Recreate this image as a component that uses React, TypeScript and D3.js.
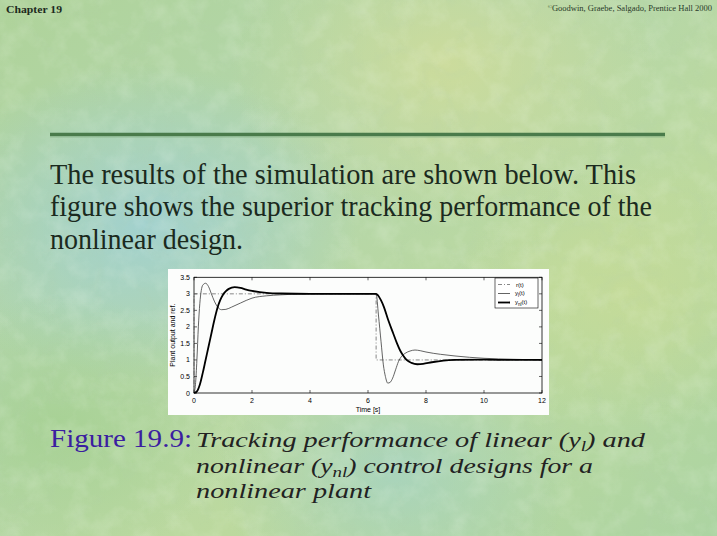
import React from "react";
import * as d3 from "d3";

// ---------- data ----------
const xTicks = [0, 2, 4, 6, 8, 10, 12];
const yTicks = [0, 0.5, 1, 1.5, 2, 2.5, 3, 3.5];

const tRef = [0, 0, 6.28, 6.28, 12];
const rRef = [0, 3, 3, 1, 1];

const tLin = [0, 0.05, 0.1, 0.15, 0.2, 0.25, 0.3, 0.4, 0.5, 0.6, 0.7, 0.8, 0.95, 1.1, 1.3, 1.6, 2.0, 2.5, 3.0, 4.0, 5.0, 6.28,
  6.36, 6.45, 6.53, 6.6, 6.68, 6.76, 6.85, 6.95, 7.05, 7.15, 7.28, 7.45, 7.62, 7.8, 8.0, 8.5, 9.0, 9.5, 10, 11, 12];
const yLin = [0, 0.25, 1.0, 2.0, 2.7, 3.1, 3.26, 3.32, 3.22, 3.0, 2.78, 2.62, 2.52, 2.53, 2.6, 2.72, 2.87, 2.94, 2.97, 3.0, 3.0, 3.0,
  2.36, 1.55, 0.85, 0.5, 0.3, 0.32, 0.45, 0.7, 0.95, 1.1, 1.2, 1.27, 1.3, 1.28, 1.24, 1.17, 1.12, 1.08, 1.05, 1.02, 1.0];

const tNl = [0, 0.1, 0.2, 0.3, 0.4, 0.5, 0.6, 0.7, 0.8, 0.9, 1.0, 1.1, 1.2, 1.4, 1.6, 1.8, 2.0, 2.5, 3.0, 4.0, 5.0, 6.28,
  6.35, 6.45, 6.55, 6.7, 6.85, 7.0, 7.1, 7.2, 7.33, 7.5, 7.7, 7.9, 8.2, 8.6, 9.0, 10, 11, 12];
const yNl = [0, 0.05, 0.25, 0.6, 1.0, 1.4, 1.8, 2.2, 2.55, 2.8, 2.97, 3.08, 3.15, 3.2, 3.18, 3.13, 3.09, 3.03, 3.01, 3.0, 3.0, 3.0,
  2.95, 2.8, 2.6, 2.2, 1.85, 1.5, 1.3, 1.15, 1.0, 0.91, 0.87, 0.88, 0.93, 0.98, 1.0, 1.01, 1.0, 1.0];

const bodyLines = [
  "The results of the simulation are shown below.  This",
  "figure shows the superior tracking performance of the",
  "nonlinear design.",
];

const SERIF = "'Liberation Serif', 'Times New Roman', Times, serif";
const SANS = "'Liberation Sans', Arial, Helvetica, sans-serif";

export default function App() {
  const W = 717, H = 536;
  const x = d3.scaleLinear().domain([0, 12]).range([194, 542]);
  const y = d3.scaleLinear().domain([0, 3.5]).range([393, 277.3]);

  const lineLinear = d3.line<[number, number]>().x((d) => x(d[0])).y((d) => y(d[1]));
  const lineSmooth = d3.line<[number, number]>().x((d) => x(d[0])).y((d) => y(d[1])).curve(d3.curveMonotoneX);

  const refPts = tRef.map((t, i) => [t, rRef[i]] as [number, number]);
  const linPts = tLin.map((t, i) => [t, yLin[i]] as [number, number]);
  const nlPts = tNl.map((t, i) => [t, yNl[i]] as [number, number]);

  const [x0, x1] = x.range();
  const [y0, y1] = y.range();

  return (
    <svg width={W} height={H} style={{ position: "absolute", left: 0, top: 0, display: "block" }}>
      <defs>
        <linearGradient id="bg" x1="0" y1="0" x2="1" y2="1">
          <stop offset="0" stopColor="#afd39a" />
          <stop offset="0.35" stopColor="#b3d6ac" />
          <stop offset="0.65" stopColor="#bcd99e" />
          <stop offset="1" stopColor="#acd4a2" />
        </linearGradient>
        <radialGradient id="blue1" cx="0.2" cy="0.42" r="0.3">
          <stop offset="0" stopColor="#9fd0d4" stopOpacity="0.85" />
          <stop offset="1" stopColor="#9fd0d4" stopOpacity="0" />
        </radialGradient>
        <radialGradient id="blue2" cx="0.55" cy="0.88" r="0.25">
          <stop offset="0" stopColor="#a2d2c8" stopOpacity="0.7" />
          <stop offset="1" stopColor="#a2d2c8" stopOpacity="0" />
        </radialGradient>
        <radialGradient id="yel1" cx="0.62" cy="0.12" r="0.3">
          <stop offset="0" stopColor="#d2dd98" stopOpacity="0.8" />
          <stop offset="1" stopColor="#d2dd98" stopOpacity="0" />
        </radialGradient>
        <radialGradient id="yel2" cx="0.88" cy="0.55" r="0.25">
          <stop offset="0" stopColor="#c9dc96" stopOpacity="0.7" />
          <stop offset="1" stopColor="#c9dc96" stopOpacity="0" />
        </radialGradient>
        <radialGradient id="grn1" cx="0.08" cy="0.8" r="0.25">
          <stop offset="0" stopColor="#a4d090" stopOpacity="0.8" />
          <stop offset="1" stopColor="#a4d090" stopOpacity="0" />
        </radialGradient>
        <filter id="tex" x="0" y="0" width="100%" height="100%">
          <feTurbulence type="fractalNoise" baseFrequency="0.045" numOctaves="4" seed="7" result="n" />
          <feColorMatrix in="n" type="matrix"
            values="0 0 0 0 0.95  0 0 0 0 1  0 0 0 0 0.92  1.4 0 0 0 -0.6" />
        </filter>
        <filter id="tex2" x="0" y="0" width="100%" height="100%">
          <feTurbulence type="turbulence" baseFrequency="0.02" numOctaves="3" seed="3" result="n" />
          <feColorMatrix in="n" type="matrix"
            values="0 0 0 0 0.45  0 0 0 0 0.62  0 0 0 0 0.42  -1.5 0 0 0 0.35" />
        </filter>
      </defs>

      {/* background */}
      <rect x={0} y={0} width={W} height={H} fill="url(#bg)" />
      <rect x={0} y={0} width={W} height={H} fill="url(#blue1)" />
      <rect x={0} y={0} width={W} height={H} fill="url(#blue2)" />
      <rect x={0} y={0} width={W} height={H} fill="url(#yel1)" />
      <rect x={0} y={0} width={W} height={H} fill="url(#yel2)" />
      <rect x={0} y={0} width={W} height={H} fill="url(#grn1)" />
      <rect x={0} y={0} width={W} height={H} filter="url(#tex2)" opacity={0.35} />
      <rect x={0} y={0} width={W} height={H} filter="url(#tex)" opacity={0.25} />

      {/* header */}
      <text x={6} y={13} fontFamily={SERIF} fontWeight="bold" fontSize={11} fill="#1d2a1d" textLength={56} lengthAdjust="spacingAndGlyphs">
        Chapter 19
      </text>
      <text x={712} y={11} textAnchor="end" fontFamily={SERIF} fontSize={8.5} fill="#2a3a2a">
        <tspan fontSize={5.5} dy={-2}>©</tspan>
        <tspan dy={2}>Goodwin, Graebe, Salgado, Prentice Hall 2000</tspan>
      </text>

      {/* rule */}
      <line x1={50} x2={665} y1={134.5} y2={134.5} stroke="#4a7b4b" strokeWidth={3.5} />
      <line x1={50} x2={665} y1={137} y2={137} stroke="#86b286" strokeWidth={1} opacity={0.7} />

      {/* body text */}
      {bodyLines.map((s, i) => (
        <text key={i} x={50} y={183.5 + i * 32.5} fontFamily={SERIF} fontSize={29} fill="#1b2a1e"
          textLength={[586, 602, 193][i]} lengthAdjust="spacingAndGlyphs">
          {s}
        </text>
      ))}

      {/* chart panel */}
      <rect x={168} y={269} width={381} height={146} fill="#fcfdfc" />

      {/* axes box */}
      <rect x={x0} y={y1} width={x1 - x0} height={y0 - y1} fill="none" stroke="#000" strokeWidth={0.8} />

      {/* ticks */}
      {xTicks.map((t) => (
        <g key={"xt" + t}>
          <line x1={x(t)} x2={x(t)} y1={y0} y2={y0 - 3} stroke="#000" strokeWidth={0.6} />
          <line x1={x(t)} x2={x(t)} y1={y1} y2={y1 + 3} stroke="#000" strokeWidth={0.6} />
          <text x={x(t)} y={y0 + 10} textAnchor="middle" fontFamily={SANS} fontSize={7} fill="#000">{t}</text>
        </g>
      ))}
      {yTicks.map((v) => (
        <g key={"yt" + v}>
          <line x1={x0} x2={x0 + 3} y1={y(v)} y2={y(v)} stroke="#000" strokeWidth={0.6} />
          <line x1={x1} x2={x1 - 3} y1={y(v)} y2={y(v)} stroke="#000" strokeWidth={0.6} />
          <text x={x0 - 4} y={y(v) + 2.5} textAnchor="end" fontFamily={SANS} fontSize={7} fill="#000">{v}</text>
        </g>
      ))}

      {/* axis labels */}
      <text x={(x0 + x1) / 2} y={412} textAnchor="middle" fontFamily={SANS} fontSize={7} fill="#000">Time [s]</text>
      <text transform={`translate(175, ${(y0 + y1) / 2}) rotate(-90)`} textAnchor="middle" fontFamily={SANS} fontSize={7} fill="#000">
        Plant output and ref.
      </text>

      {/* series */}
      <path d={lineLinear(refPts) || ""} fill="none" stroke="#6a6a6a" strokeWidth={0.8} strokeDasharray="4,2,1,2" />
      <path d={lineSmooth(linPts) || ""} fill="none" stroke="#3c3c3c" strokeWidth={0.8} />
      <path d={lineSmooth(nlPts) || ""} fill="none" stroke="#000" strokeWidth={1.8} />

      {/* legend */}
      <g>
        <rect x={495} y={278} width={43} height={30} fill="#fff" stroke="#000" strokeWidth={0.6} />
        <line x1={498} x2={510} y1={284.5} y2={284.5} stroke="#6a6a6a" strokeWidth={0.8} strokeDasharray="4,2,1,2" />
        <text x={516} y={287} fontFamily={SANS} fontSize={6} fill="#000">r(t)</text>
        <line x1={498} x2={510} y1={293.5} y2={293.5} stroke="#3c3c3c" strokeWidth={0.8} />
        <text x={515} y={295} fontFamily={SANS} fontSize={6} fill="#000">
          y<tspan fontSize={4.5} dy={1.5}>l</tspan><tspan dy={-1.5}>(t)</tspan>
        </text>
        <line x1={498} x2={510} y1={302.5} y2={302.5} stroke="#000" strokeWidth={1.8} />
        <text x={515} y={304} fontFamily={SANS} fontSize={6} fill="#000">
          y<tspan fontSize={4.5} dy={1.5}>nl</tspan><tspan dy={-1.5}>(t)</tspan>
        </text>
      </g>

      {/* caption */}
      <text x={50} y={447} fontFamily={SERIF} fontSize={26} fill="#3b1ea0" textLength={142} lengthAdjust="spacingAndGlyphs">
        Figure 19.9:
      </text>
      <text x={196} y={447} fontFamily={SERIF} fontStyle="italic" fontSize={22} fill="#222" textLength={449} lengthAdjust="spacingAndGlyphs">
        Tracking performance of linear (y<tspan fontSize={15} dy={4}>l</tspan><tspan dy={-4}>) and</tspan>
      </text>
      <text x={196} y={473} fontFamily={SERIF} fontStyle="italic" fontSize={22} fill="#222" textLength={397} lengthAdjust="spacingAndGlyphs">
        nonlinear (y<tspan fontSize={15} dy={4}>nl</tspan><tspan dy={-4}>) control designs for a</tspan>
      </text>
      <text x={196} y={498} fontFamily={SERIF} fontStyle="italic" fontSize={22} fill="#222" textLength={175} lengthAdjust="spacingAndGlyphs">
        nonlinear plant
      </text>
    </svg>
  );
}
